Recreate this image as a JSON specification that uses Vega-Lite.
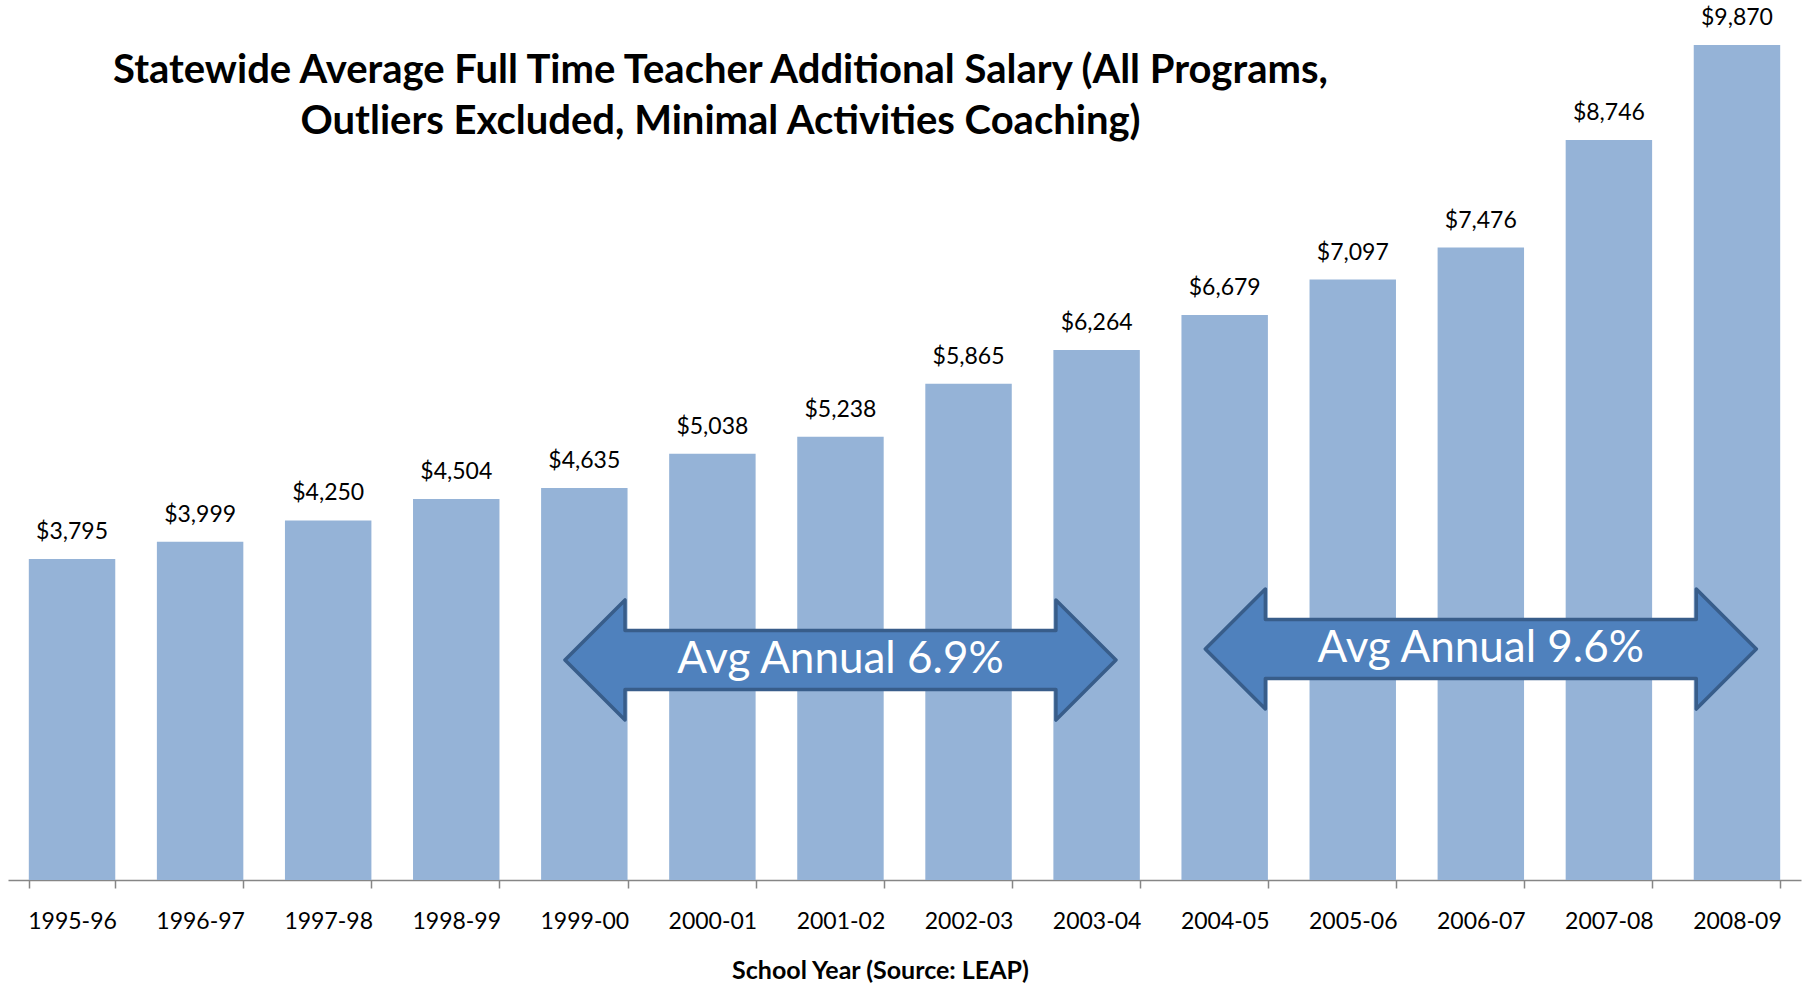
{
  "$schema": "https://vega.github.io/schema/vega-lite/v6.json",
  "width": 1793,
  "height": 846,
  "autosize": {"type": "none"},
  "padding": {"left": 8, "top": 34, "right": 7, "bottom": 104},
  "background": "white",
  "config": {"view": {"stroke": null}, "font": "Lato"},
  "title": {
    "text": ["Statewide Average Full Time Teacher Additional Salary (All Programs,", "Outliers Excluded, Minimal Activities Coaching)"],
    "font": "Lato",
    "fontSize": 40,
    "fontWeight": "bold",
    "color": "black",
    "lineHeight": 51,
    "anchor": "middle",
    "frame": "group",
    "dx": -184,
    "baseline": "top",
    "offset": -135
  },
  "datasets": {
    "salary": [
      {"year": "1995-96", "salary": 3795},
      {"year": "1996-97", "salary": 3999},
      {"year": "1997-98", "salary": 4250},
      {"year": "1998-99", "salary": 4504},
      {"year": "1999-00", "salary": 4635},
      {"year": "2000-01", "salary": 5038},
      {"year": "2001-02", "salary": 5238},
      {"year": "2002-03", "salary": 5865},
      {"year": "2003-04", "salary": 6264},
      {"year": "2004-05", "salary": 6679},
      {"year": "2005-06", "salary": 7097},
      {"year": "2006-07", "salary": 7476},
      {"year": "2007-08", "salary": 8746},
      {"year": "2008-09", "salary": 9870}
    ],
    "arrows": [
      {"year": "2001-02", "pos": 2600, "label": "Avg Annual 6.9%"},
      {"year": "2006-07", "pos": 2730, "label": "Avg Annual 9.6%"}
    ]
  },
  "layer": [
    {
      "data": {"name": "salary"},
      "mark": {"type": "bar", "color": "#95B3D7"},
      "encoding": {
        "x": {
          "field": "year", "type": "ordinal", "sort": null,
          "scale": {"domain": ["1995-96","1996-97","1997-98","1998-99","1999-00","2000-01","2001-02","2002-03","2003-04","2004-05","2005-06","2006-07","2007-08","2008-09"], "paddingInner": 0.325, "paddingOuter": 0.1625},
          "axis": {
            "title": "School Year (Source: LEAP)",
            "titleFont": "Lato", "titleFontSize": 25, "titleFontWeight": "bold", "titleColor": "black", "titlePadding": 25,
            "titleX": 872, "titleAlign": "center",
            "labelFont": "Lato", "labelFontSize": 23, "labelColor": "black", "labelPadding": 22, "labelAngle": 0,
            "tickBand": "extent", "tickSize": 8, "tickColor": "#868686", "tickWidth": 1.5,
            "domainColor": "#868686", "domainWidth": 1.5, "grid": false
          }
        },
        "y": {"field": "salary", "type": "quantitative", "scale": {"domain": [0, 10000]}, "axis": null}
      }
    },
    {
      "data": {"name": "salary"},
      "mark": {"type": "text", "baseline": "alphabetic", "dy": -20, "fontSize": 23, "color": "black", "font": "Lato"},
      "encoding": {
        "x": {"field": "year", "type": "ordinal", "sort": null},
        "y": {"field": "salary", "type": "quantitative"},
        "text": {"field": "salary", "format": "$,.0f"}
      }
    },
    {
      "data": {"name": "arrows"},
      "mark": {
        "type": "point",
        "shape": "M -1 0 L -0.782 -0.218 L -0.782 -0.107 L 0.782 -0.107 L 0.782 -0.218 L 1 0 L 0.782 0.218 L 0.782 0.107 L -0.782 0.107 L -0.782 0.218 Z",
        "size": 303601,
        "filled": true,
        "fill": "#4F81BD",
        "stroke": "#385D8A",
        "strokeWidth": 3.5,
        "strokeJoin": "round",
        "opacity": 1
      },
      "encoding": {
        "x": {"field": "year", "type": "ordinal", "sort": null},
        "y": {"field": "pos", "type": "quantitative"}
      }
    },
    {
      "data": {"name": "arrows"},
      "mark": {"type": "text", "color": "white", "fontSize": 44, "baseline": "middle", "font": "Lato"},
      "encoding": {
        "x": {"field": "year", "type": "ordinal", "sort": null},
        "y": {"field": "pos", "type": "quantitative"},
        "text": {"field": "label"}
      }
    }
  ]
}
